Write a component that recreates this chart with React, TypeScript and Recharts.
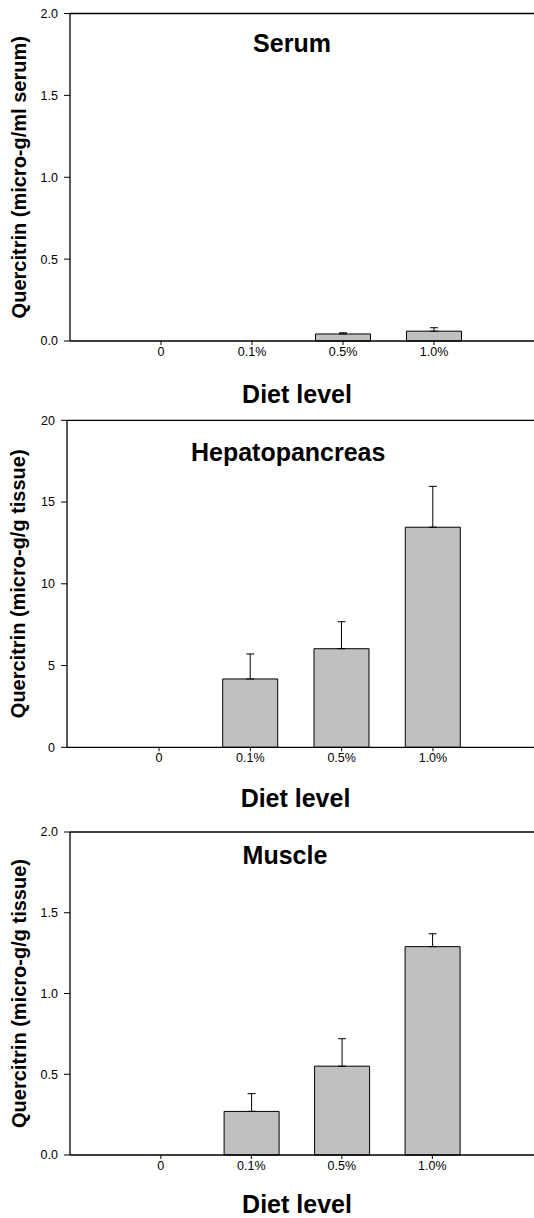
import { BarChart, Bar, XAxis, YAxis, ErrorBar, ReferenceLine } from 'recharts'

const dietLevels = ['0', '0.1%', '0.5%', '1.0%']

const serumMean = [0, 0, 0.043, 0.06]
const serumErr = [null, null, 0.007, 0.021]

const hepMean = [0, 4.18, 6.03, 13.46]
const hepErr = [null, 1.53, 1.65, 2.5]

const muscleMean = [0, 0.27, 0.55, 1.29]
const muscleErr = [null, 0.11, 0.17, 0.08]

const smallTicks = [0, 0.5, 1.0, 1.5, 2.0]
const hepTicks = [0, 5, 10, 15, 20]

const FONT = '"Liberation Sans", Arial, Helvetica, sans-serif'

interface PanelProps {
  title: string
  yLabel: string
  means: number[]
  errs: (number | null)[]
  ticks: number[]
  decimals: number
  top: number
  height: number
  marginTop: number
  axisLeft: number
  padLeft: number
  padRight: number
  xAxisHeight: number
  dietOffset: number
  titleOffset: number
  titleDx: number
  yLabelDx: number
}

function Panel(p: PanelProps) {
  const data = dietLevels.map((level, i) => ({
    level,
    mean: p.means[i],
    err: p.errs[i] == null ? null : [0, p.errs[i]],
  }))
  const max = p.ticks[p.ticks.length - 1]

  return (
    <div style={{ position: 'absolute', left: 0, top: p.top }}>
      <BarChart
        width={534}
        height={p.height}
        data={data}
        margin={{ top: p.marginTop, right: 0, bottom: 0, left: 0 }}
      >
        <XAxis
          dataKey="level"
          height={p.xAxisHeight}
          padding={{ left: p.padLeft, right: p.padRight }}
          tickSize={4}
          tickMargin={2}
          tick={{ fill: '#000', fontSize: 12.5 }}
          axisLine={{ stroke: '#000', strokeWidth: 1.3 }}
          tickLine={{ stroke: '#000' }}
          label={{
            value: 'Diet level',
            position: 'insideBottom',
            offset: p.dietOffset,
            dx: -5,
            fill: '#000',
            fontSize: 25,
            fontWeight: 'bold',
          }}
        />
        <YAxis
          width={p.axisLeft}
          domain={[0, max]}
          ticks={p.ticks}
          interval={0}
          tickFormatter={(v: number) => v.toFixed(p.decimals)}
          tickSize={6}
          tickMargin={6}
          tick={{ fill: '#000', fontSize: 12.5 }}
          axisLine={{ stroke: '#000', strokeWidth: 1.3 }}
          tickLine={{ stroke: '#000' }}
          label={{
            value: p.yLabel,
            angle: -90,
            position: 'center',
            dx: p.yLabelDx,
            fill: '#000',
            fontSize: 20,
            fontWeight: 'bold',
          }}
        />
        <ReferenceLine
          y={max}
          stroke="#000"
          strokeWidth={1.3}
          label={{
            value: p.title,
            position: 'bottom',
            offset: p.titleOffset,
            dx: p.titleDx,
            fill: '#000',
            fontSize: 25,
            fontWeight: 'bold',
          }}
        />
        <Bar
          dataKey="mean"
          fill="#c0c0c0"
          stroke="#000"
          strokeWidth={1}
          barSize={55}
          isAnimationActive={false}
        >
          <ErrorBar dataKey="err" direction="y" width={4} stroke="#000" strokeWidth={1} />
        </Bar>
      </BarChart>
    </div>
  )
}

export default function App() {
  return (
    <div
      style={{
        position: 'absolute',
        left: 0,
        top: 0,
        width: 534,
        height: 1218,
        background: '#fff',
        fontFamily: FONT,
        overflow: 'hidden',
      }}
    >
      <Panel
        title="Serum"
        yLabel="Quercitrin (micro-g/ml serum)"
        means={serumMean}
        errs={serumErr}
        ticks={smallTicks}
        decimals={1}
        top={0}
        height={410}
        marginTop={13.5}
        axisLeft={70}
        padLeft={45.5}
        padRight={54.5}
        xAxisHeight={69}
        dietOffset={7.3}
        titleOffset={20.8}
        titleDx={-10}
        yLabelDx={-16}
      />
      <Panel
        title="Hepatopancreas"
        yLabel="Quercitrin (micro-g/g tissue)"
        means={hepMean}
        errs={hepErr}
        ticks={hepTicks}
        decimals={0}
        top={410}
        height={406.3}
        marginTop={10.3}
        axisLeft={67}
        padLeft={46.4}
        padRight={55.4}
        xAxisHeight={69}
        dietOffset={9.3}
        titleOffset={23}
        titleDx={-12.3}
        yLabelDx={-16}
      />
      <Panel
        title="Muscle"
        yLabel="Quercitrin (micro-g/g tissue)"
        means={muscleMean}
        errs={muscleErr}
        ticks={smallTicks}
        decimals={1}
        top={816}
        height={402}
        marginTop={16}
        axisLeft={70}
        padLeft={45.6}
        padRight={56.4}
        xAxisHeight={63}
        dietOffset={5.3}
        titleOffset={14.7}
        titleDx={-17}
        yLabelDx={-16}
      />
    </div>
  )
}
